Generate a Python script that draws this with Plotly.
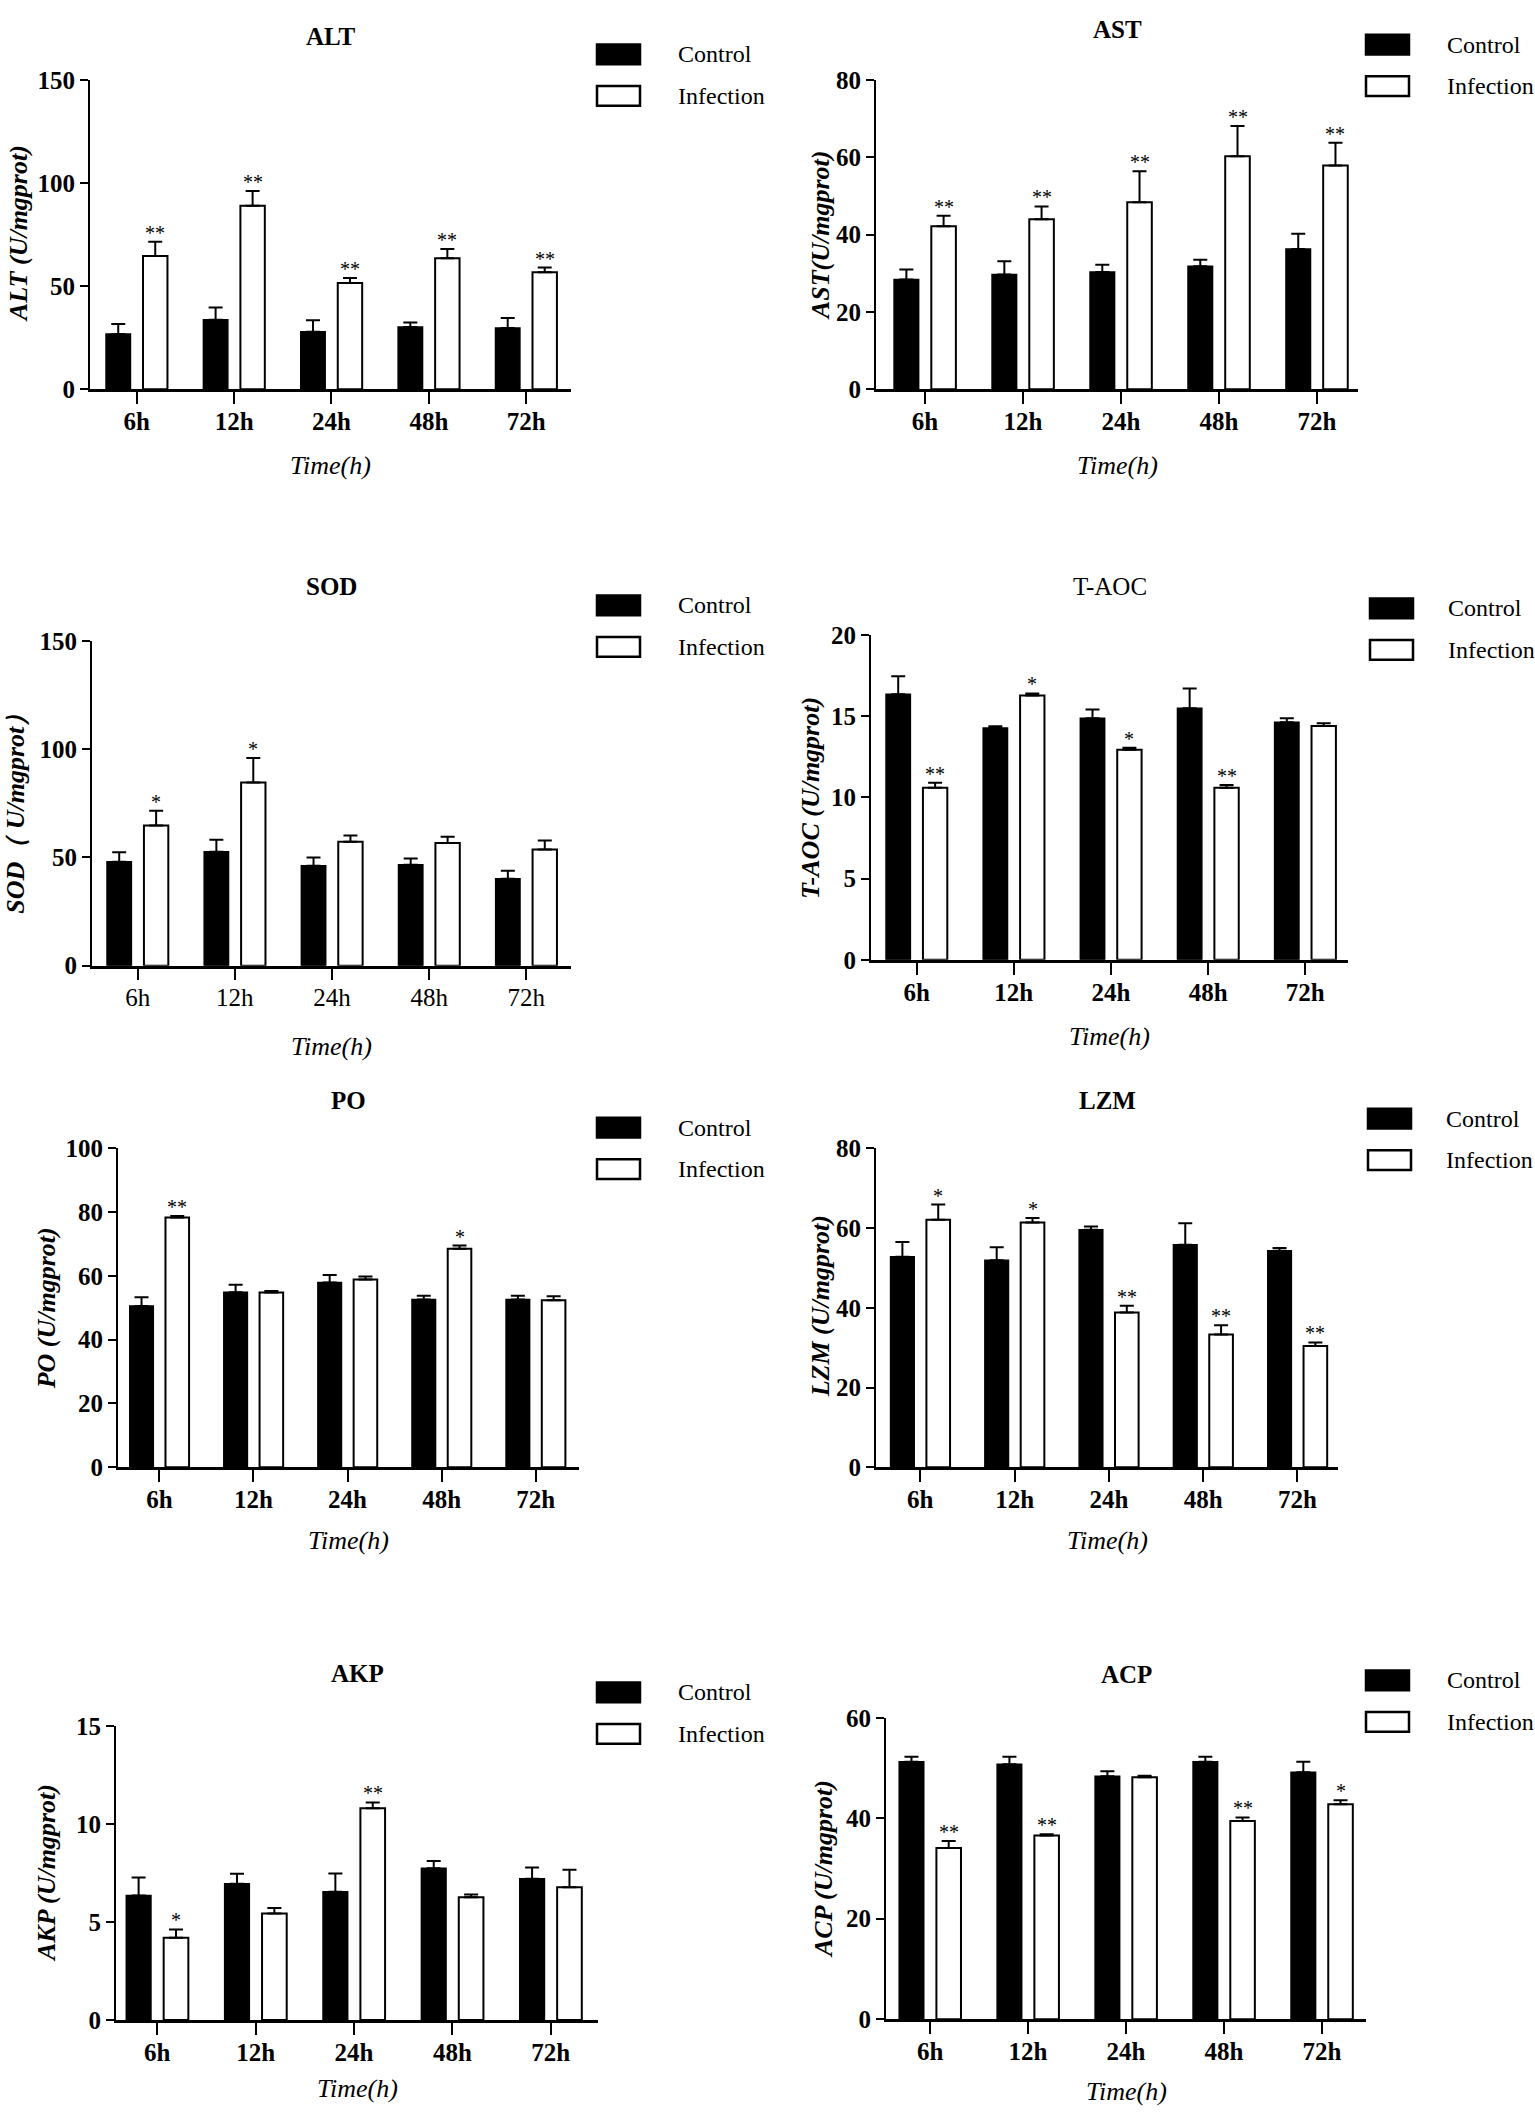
import plotly.graph_objects as go

W, H = 1535, 2120

cats = ["6h", "12h", "24h", "48h", "72h"]

# values (mean and upper error)
alt_ctrl = [26.8, 33.7, 27.8, 30.2, 29.7]
alt_ctrl_err = [4.8, 5.9, 5.7, 2.2, 4.8]
alt_inf = [64.6, 89.0, 51.5, 63.5, 56.8]
alt_inf_err = [7.0, 7.2, 2.4, 4.5, 2.2]
alt_stars = ["**", "**", "**", "**", "**"]

ast_ctrl = [28.4, 29.7, 30.3, 31.8, 36.3]
ast_ctrl_err = [2.6, 3.4, 1.9, 1.7, 3.9]
ast_inf = [42.2, 44.0, 48.4, 60.3, 57.9]
ast_inf_err = [2.7, 3.3, 8.0, 7.8, 5.9]
ast_stars = ["**", "**", "**", "**", "**"]

sod_ctrl = [48.0, 52.6, 46.2, 46.6, 40.2]
sod_ctrl_err = [4.4, 5.6, 3.8, 2.9, 3.7]
sod_inf = [64.8, 84.6, 57.2, 56.7, 53.7]
sod_inf_err = [6.8, 11.3, 2.9, 2.9, 4.1]
sod_stars = ["*", "*", "", "", ""]

taoc_ctrl = [16.35, 14.27, 14.88, 15.49, 14.62]
taoc_ctrl_err = [1.11, 0.11, 0.53, 1.22, 0.26]
taoc_inf = [10.6, 16.28, 12.93, 10.6, 14.4]
taoc_inf_err = [0.3, 0.12, 0.13, 0.16, 0.16]
taoc_stars = ["**", "*", "*", "**", ""]

po_ctrl = [50.6, 54.9, 57.9, 52.6, 52.6]
po_ctrl_err = [2.7, 2.3, 2.4, 1.2, 1.2]
po_inf = [78.3, 54.8, 58.9, 68.5, 52.4]
po_inf_err = [0.5, 0.5, 0.9, 1.0, 1.2]
po_stars = ["**", "", "", "*", ""]

lzm_ctrl = [52.8, 51.9, 59.6, 55.8, 54.3]
lzm_ctrl_err = [3.7, 3.3, 0.8, 5.4, 0.7]
lzm_inf = [62.1, 61.4, 38.8, 33.3, 30.4]
lzm_inf_err = [3.8, 1.1, 1.7, 2.3, 0.9]
lzm_stars = ["*", "*", "**", "**", "**"]

akp_ctrl = [6.35, 6.95, 6.55, 7.74, 7.21]
akp_ctrl_err = [0.92, 0.51, 0.92, 0.37, 0.57]
akp_inf = [4.2, 5.43, 10.8, 6.27, 6.77]
akp_inf_err = [0.42, 0.28, 0.3, 0.13, 0.89]
akp_stars = ["*", "", "**", "", ""]

acp_ctrl = [51.3, 50.8, 48.4, 51.3, 49.2]
acp_ctrl_err = [1.0, 1.5, 1.0, 1.0, 2.1]
acp_inf = [34.1, 36.6, 48.2, 39.5, 42.8]
acp_inf_err = [1.4, 0.25, 0.3, 0.7, 0.8]
acp_stars = ["**", "**", "", "**", "*"]

panels = [
    ("ALT", "ALT (U/mgprot)", alt_ctrl, alt_ctrl_err, alt_inf, alt_inf_err, alt_stars, 150, 50),
    ("AST", "AST(U/mgprot)", ast_ctrl, ast_ctrl_err, ast_inf, ast_inf_err, ast_stars, 80, 20),
    ("SOD", "SOD（ U/mgprot）", sod_ctrl, sod_ctrl_err, sod_inf, sod_inf_err, sod_stars, 150, 50),
    ("T-AOC", "T-AOC (U/mgprot)", taoc_ctrl, taoc_ctrl_err, taoc_inf, taoc_inf_err, taoc_stars, 20, 5),
    ("PO", "PO (U/mgprot)", po_ctrl, po_ctrl_err, po_inf, po_inf_err, po_stars, 100, 20),
    ("LZM", "LZM (U/mgprot)", lzm_ctrl, lzm_ctrl_err, lzm_inf, lzm_inf_err, lzm_stars, 80, 20),
    ("AKP", "AKP (U/mgprot)", akp_ctrl, akp_ctrl_err, akp_inf, akp_inf_err, akp_stars, 15, 5),
    ("ACP", "ACP (U/mgprot)", acp_ctrl, acp_ctrl_err, acp_inf, acp_inf_err, acp_stars, 60, 20),
]

# page geometry in pixels: axes box (left, right, top, zero), x range,
# title y, legend (box left, top, text left), y-title (x, y), Time(h) y
geo = [
    dict(box=(90, 571, 68, 381), xr=(-0.48, 4.46), ty=24, leg=(597, 32, 676), yt=(18, 224), time_y=458, bold=True),
    dict(box=(876, 1358, 68, 381), xr=(-0.50, 4.42), ty=17, leg=(1366, 22, 1445), yt=(820, 225), time_y=458, bold=True),
    dict(box=(92, 571, 636, 965), xr=(-0.47, 4.46), ty=581, leg=(597, 590, 676), yt=(16, 805), time_y=1047, bold=False),
    dict(box=(871, 1348, 630, 959), xr=(-0.47, 4.44), ty=581, leg=(1370, 593, 1446), yt=(811, 795), time_y=1037, bold=True),
    dict(box=(118, 579, 1150, 1473), xr=(-0.44, 4.46), ty=1102, leg=(597, 1119, 676), yt=(46, 1312), time_y=1547, bold=True),
    dict(box=(876, 1338, 1150, 1473), xr=(-0.47, 4.43), ty=1102, leg=(1368, 1110, 1444), yt=(820, 1310), time_y=1547, bold=True),
    dict(box=(116, 598, 1735, 2033), xr=(-0.42, 4.48), ty=1682, leg=(597, 1691, 676), yt=(46, 1884), time_y=2102, bold=True),
    dict(box=(886, 1366, 1727, 2032), xr=(-0.45, 4.45), ty=1683, leg=(1366, 1679, 1445), yt=(823, 1880), time_y=2105, bold=True),
]

FONT = "Liberation Serif"
BARGAP = 0.24
star_off = (1 - BARGAP) / 4

fig = go.Figure()
annotations = []
shapes = []


def px(x):
    return x / W


def py(y):
    return 1 - y / H


for k, (name, ytitle, ctrl, ctrl_err, inf, inf_err, stars, ymax, dtick) in enumerate(panels):
    g = geo[k]
    n = "" if k == 0 else str(k + 1)
    xa, ya = "x" + n, "y" + n

    fig.add_trace(go.Bar(
        x=cats, y=ctrl, name="Control", xaxis=xa, yaxis=ya, showlegend=False,
        marker=dict(color="black", line=dict(color="black", width=1.5)),
        error_y=dict(type="data", symmetric=False, array=ctrl_err, arrayminus=[0] * 5,
                     color="black", thickness=2, width=7),
    ))
    fig.add_trace(go.Bar(
        x=cats, y=inf, name="Infection", xaxis=xa, yaxis=ya, showlegend=False,
        marker=dict(color="white", line=dict(color="black", width=2)),
        error_y=dict(type="data", symmetric=False, array=inf_err, arrayminus=[0] * 5,
                     color="black", thickness=2, width=7),
    ))

    x0, x1, ytop, yzero = g["box"]
    fig.update_layout(**{
        "xaxis" + n: dict(
            domain=[px(x0), px(x1)], range=list(g["xr"]), anchor=ya,
            showline=True, linecolor="black", linewidth=2.5,
            ticks="outside", ticklen=12, tickwidth=2, tickcolor="black",
            showgrid=False, zeroline=False, ticklabelstandoff=-4,
            tickfont=dict(family=FONT, size=25, color="black",
                          weight="bold" if g["bold"] else "normal"),
        ),
        "yaxis" + n: dict(
            domain=[py(yzero), py(ytop)], range=[0, ymax], anchor=xa,
            dtick=dtick, tick0=0,
            showline=True, linecolor="black", linewidth=2,
            ticks="outside", ticklen=8, tickwidth=2, tickcolor="black",
            showgrid=False, zeroline=False,
            tickfont=dict(family=FONT, size=25, color="black", weight="bold"),
        ),
    })

    # panel title
    annotations.append(dict(
        text=name, xref=xa + " domain", yref="paper", x=0.5, y=py(g["ty"]),
        xanchor="center", yanchor="middle", showarrow=False,
        font=dict(family=FONT, size=25, color="black",
                  weight="normal" if name == "T-AOC" else "bold"),
    ))
    # axis titles
    annotations.append(dict(
        text=ytitle, xref="paper", yref="paper", x=px(g["yt"][0]), y=py(g["yt"][1]),
        xanchor="center", yanchor="middle", textangle=-90, showarrow=False,
        font=dict(family=FONT, size=26, color="black", weight="bold", style="italic"),
    ))
    annotations.append(dict(
        text="Time(h)", xref=xa + " domain", yref="paper", x=0.5, y=py(g["time_y"]),
        xanchor="center", yanchor="middle", showarrow=False,
        font=dict(family=FONT, size=26, color="black", style="italic"),
    ))
    # significance marks
    for i, s in enumerate(stars):
        if s:
            annotations.append(dict(
                text=s, xref=xa, yref=ya, x=i + star_off, y=inf[i] + inf_err[i],
                xanchor="center", yanchor="bottom", yshift=-4, showarrow=False,
                font=dict(family=FONT, size=20, color="black"),
            ))

    # legend
    lx, ly, tx = g["leg"]
    for j, (label, fill) in enumerate([("Control", "black"), ("Infection", "white")]):
        top = ly + j * 42
        shapes.append(dict(
            type="rect", xref="paper", yref="paper",
            x0=px(lx), x1=px(lx + 43), y0=py(top + 20), y1=py(top),
            fillcolor=fill, line=dict(color="black", width=2.5),
        ))
        annotations.append(dict(
            text=label, xref="paper", yref="paper", x=px(tx), y=py(top + 10),
            xanchor="left", yanchor="middle", showarrow=False,
            font=dict(family=FONT, size=24, color="black"),
        ))

fig.update_layout(
    width=W, height=H, autosize=False,
    margin=dict(l=0, r=0, t=0, b=0),
    barmode="group", bargap=BARGAP, bargroupgap=0.34,
    plot_bgcolor="white", paper_bgcolor="white",
    font=dict(family=FONT, color="black"),
    annotations=annotations, shapes=shapes,
)

fig.write_html(
    "out.html",
    config={"displayModeBar": False},
    post_script="document.body.style.margin='0';document.body.style.overflow='hidden';",
)
